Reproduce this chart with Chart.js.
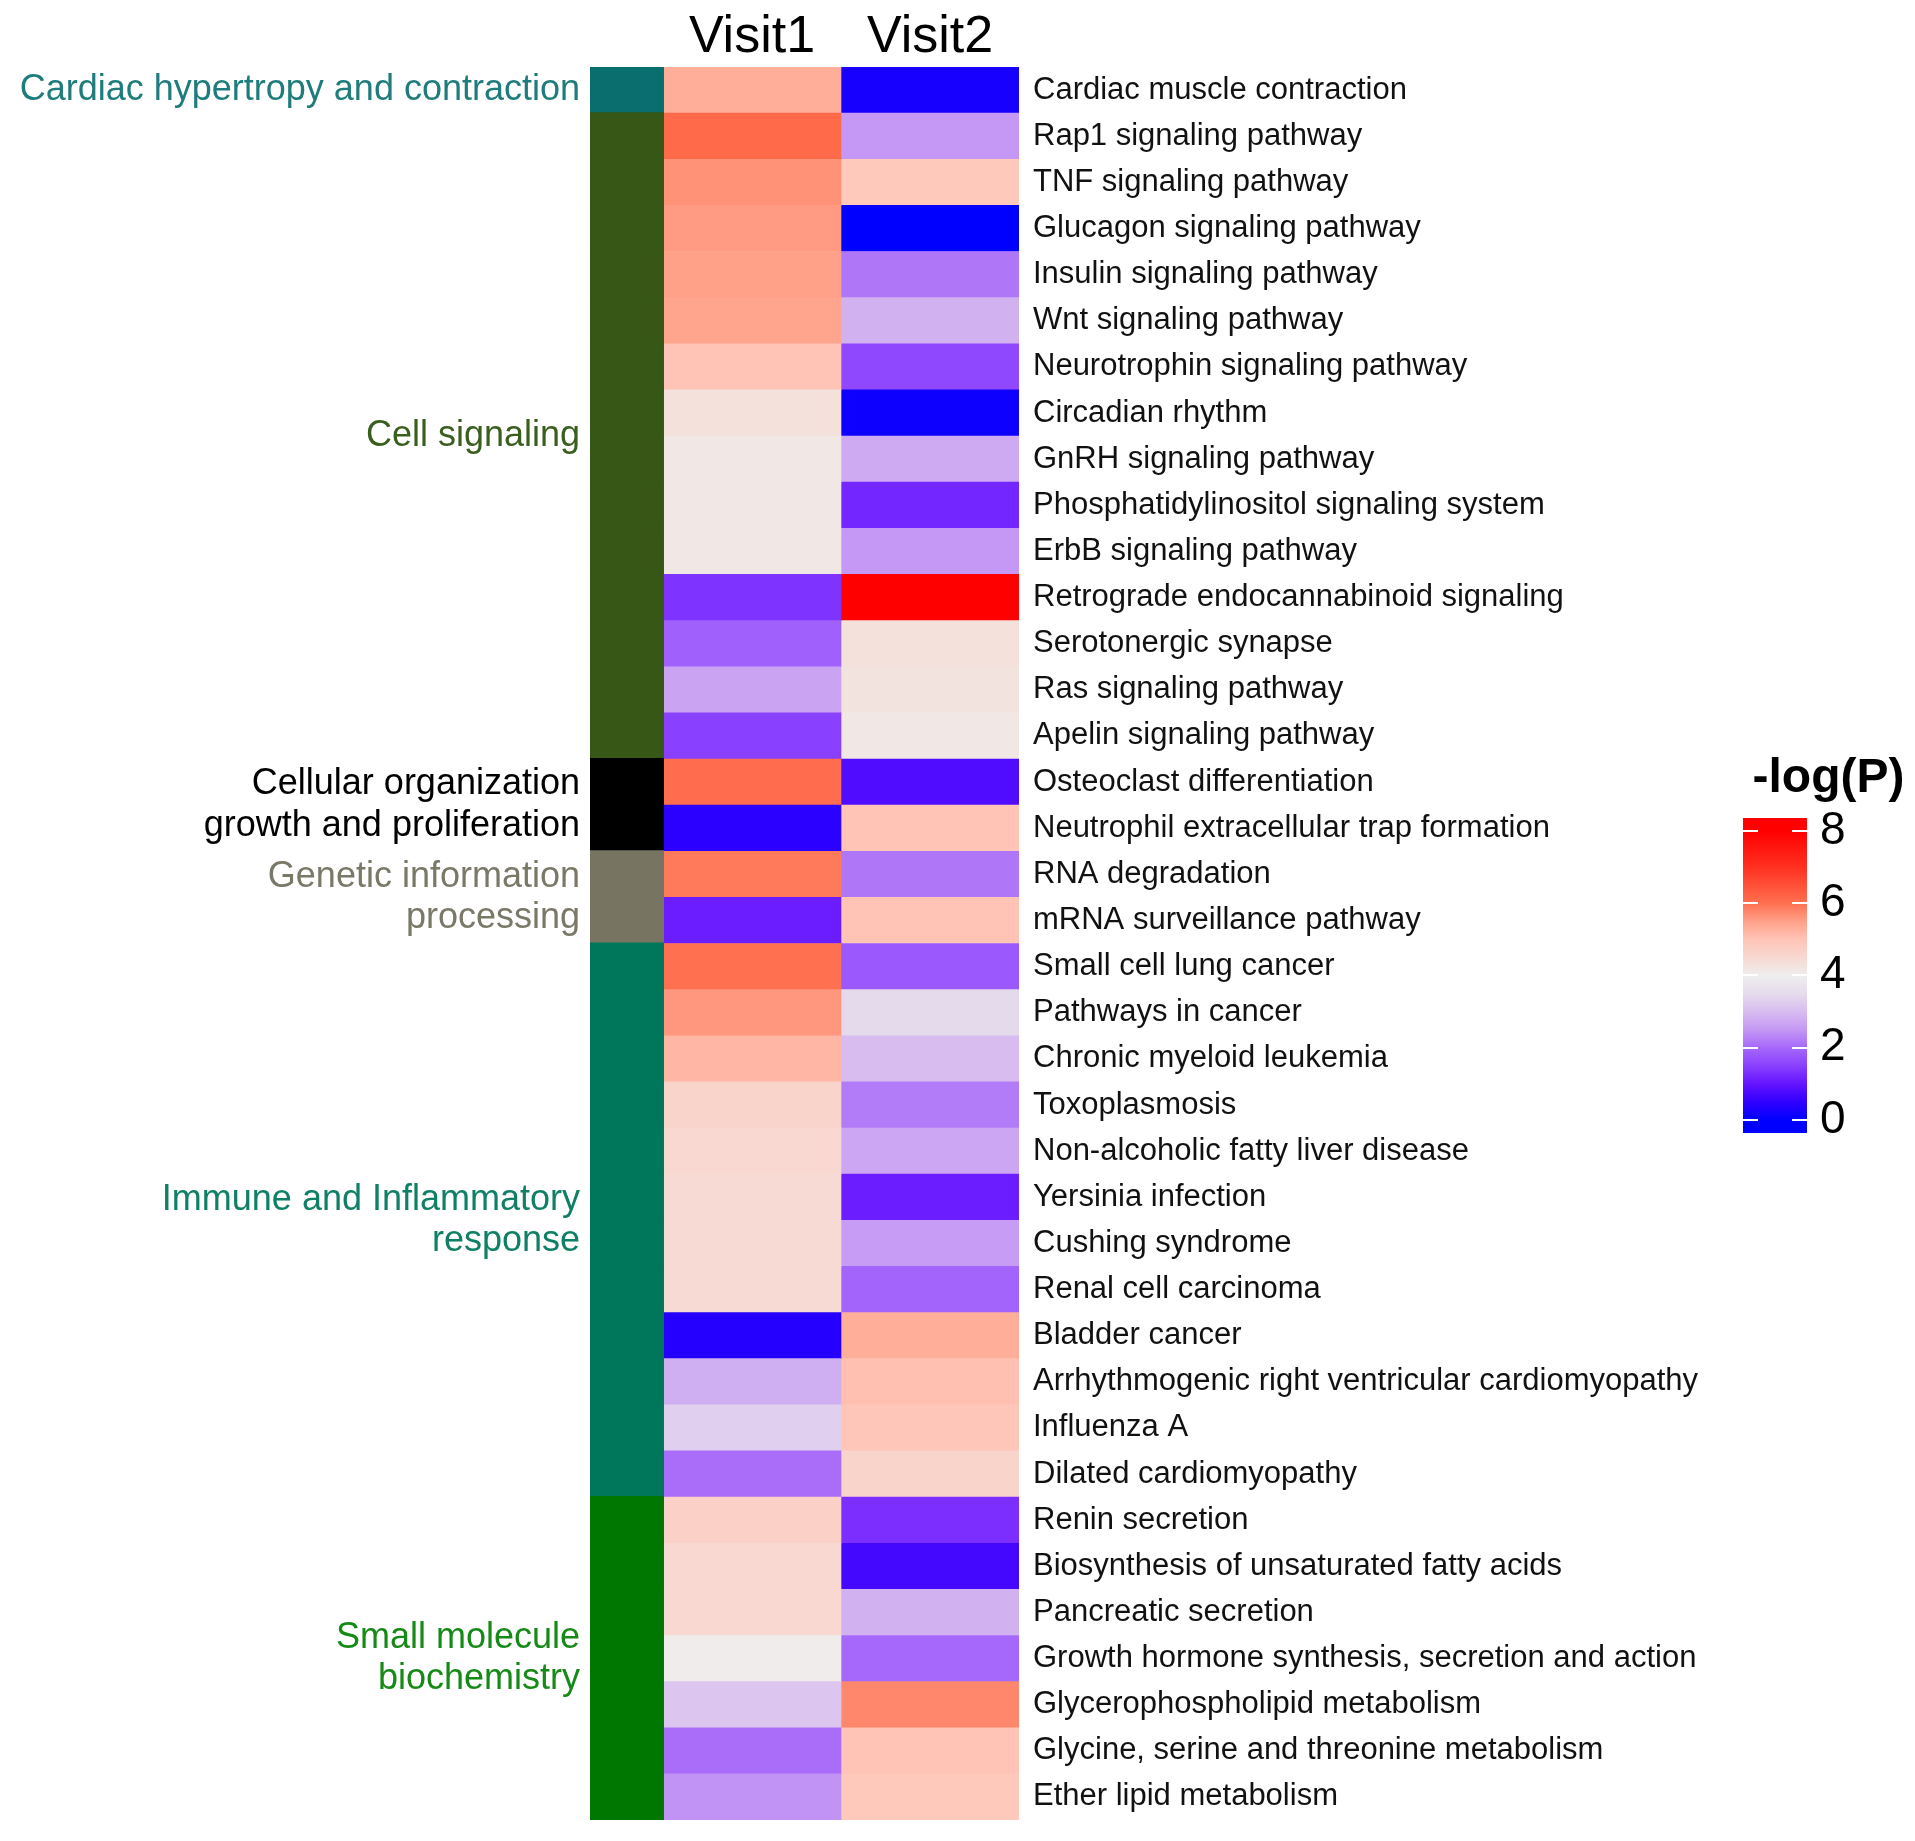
<!DOCTYPE html>
<html>
<head>
<meta charset="utf-8">
<script src="https://cdn.jsdelivr.net/npm/chart.js@4.4.1/dist/chart.umd.min.js"></script>
<style>
  html, body { margin: 0; padding: 0; background: #ffffff; overflow: hidden; }
  #wrap { position: relative; width: 1915px; height: 1841px; }
  #main { position: absolute; left: 0; top: 0; }
  #legend { position: absolute; left: 1740px; top: 740px; }
</style>
</head>
<body>
<div id="wrap">
  <canvas id="main" width="1915" height="1841"></canvas>
  <canvas id="legend" width="174" height="420"></canvas>
</div>
<script>
// ---------------- data ----------------
const pathways = [
  "Cardiac muscle contraction",
  "Rap1 signaling pathway",
  "TNF signaling pathway",
  "Glucagon signaling pathway",
  "Insulin signaling pathway",
  "Wnt signaling pathway",
  "Neurotrophin signaling pathway",
  "Circadian rhythm",
  "GnRH signaling pathway",
  "Phosphatidylinositol signaling system",
  "ErbB signaling pathway",
  "Retrograde endocannabinoid signaling",
  "Serotonergic synapse",
  "Ras signaling pathway",
  "Apelin signaling pathway",
  "Osteoclast differentiation",
  "Neutrophil extracellular trap formation",
  "RNA degradation",
  "mRNA surveillance pathway",
  "Small cell lung cancer",
  "Pathways in cancer",
  "Chronic myeloid leukemia",
  "Toxoplasmosis",
  "Non-alcoholic fatty liver disease",
  "Yersinia infection",
  "Cushing syndrome",
  "Renal cell carcinoma",
  "Bladder cancer",
  "Arrhythmogenic right ventricular cardiomyopathy",
  "Influenza A",
  "Dilated cardiomyopathy",
  "Renin secretion",
  "Biosynthesis of unsaturated fatty acids",
  "Pancreatic secretion",
  "Growth hormone synthesis, secretion and action",
  "Glycerophospholipid metabolism",
  "Glycine, serine and threonine metabolism",
  "Ether lipid metabolism"
];

const visit1 = [
  5.3, 6.1, 5.65, 5.55, 5.5, 5.45, 5.0, 4.3, 4.15, 4.15, 4.15,
  1.35, 1.9, 2.65, 1.5,
  6.05, 0.45,
  5.9, 1.1,
  6.0, 5.6, 5.2, 4.6, 4.5, 4.45, 4.45, 4.45, 0.4, 2.8, 3.3, 2.05,
  4.7, 4.5, 4.5, 4.05, 3.15, 2.05, 2.45
];

const visit2 = [
  0.25, 2.5, 4.9, 0.0, 2.15, 2.85, 1.6, 0.15, 2.75, 1.2, 2.5,
  8.0, 4.3, 4.25, 4.15,
  0.8, 5.0,
  2.15, 5.0,
  1.8, 3.45, 3.0, 2.2, 2.7, 1.1, 2.55, 1.95, 5.3, 5.05, 4.95, 4.6,
  1.3, 0.7, 2.85, 2.0, 5.75, 5.0, 4.9
];

const groupNames = [
  ["Cardiac hypertropy and contraction"],
  ["Cell signaling"],
  ["Cellular organization", "growth and proliferation"],
  ["Genetic information", "processing"],
  ["Immune and Inflammatory", "response"],
  ["Small molecule", "biochemistry"]
];

const rowGroup = [
  0,
  1, 1, 1, 1, 1, 1, 1, 1, 1, 1, 1, 1, 1, 1,
  2, 2,
  3, 3,
  4, 4, 4, 4, 4, 4, 4, 4, 4, 4, 4, 4,
  5, 5, 5, 5, 5, 5, 5
];

const visitLabels = ["Visit1", "Visit2"];
const legendTitle = "-log(P)";
const legendTicks = [0, 2, 4, 6, 8];

// ---------------- styles ----------------
const groupColors = ["#0B6E6E", "#365716", "#000000", "#777562", "#00775A", "#007700"];
const groupTextColors = ["#1E7C7C", "#3A5E1E", "#000000", "#7A7867", "#0F8066", "#168A16"];
const colorStops = [
  [0.0, [0, 0, 255]],
  [0.5, [48, 0, 255]],
  [1.0, [100, 20, 255]],
  [1.5, [138, 64, 255]],
  [2.0, [166, 104, 250]],
  [2.5, [196, 152, 244]],
  [3.0, [216, 188, 240]],
  [3.5, [230, 220, 236]],
  [4.0, [238, 238, 238]],
  [4.5, [248, 216, 208]],
  [5.0, [255, 196, 182]],
  [5.5, [255, 160, 136]],
  [6.0, [255, 112, 80]],
  [7.0, [255, 48, 32]],
  [8.0, [255, 0, 0]]
];
const FONT = "'Liberation Sans', Arial, sans-serif";

function valueColor(v) {
  if (v <= colorStops[0][0]) return rgb(colorStops[0][1]);
  for (let i = 1; i < colorStops.length; i++) {
    const [v1, c1] = colorStops[i];
    const [v0, c0] = colorStops[i - 1];
    if (v <= v1) {
      const t = (v - v0) / (v1 - v0);
      return rgb(c0.map((c, k) => c + (c1[k] - c) * t));
    }
  }
  return rgb(colorStops[colorStops.length - 1][1]);
}
function rgb(c) { return "rgb(" + c.map(x => Math.round(x)).join(",") + ")"; }

// group centres (mean row index of each group)
const groupCenters = groupNames.map((_, g) => {
  const idx = rowGroup.map((r, i) => r === g ? i : null).filter(i => i !== null);
  return idx.reduce((a, b) => a + b, 0) / idx.length;
});

const GROUP_LEFT = -0.41;
const noVPad = s => { s.paddingTop = 0; s.paddingBottom = 0; };

// ---------------- main heatmap ----------------
new Chart(document.getElementById("main"), {
  type: "bar",
  data: {
    labels: pathways,
    datasets: [
      {
        label: "Group",
        data: rowGroup.map(() => [GROUP_LEFT, 0]),
        backgroundColor: rowGroup.map(g => groupColors[g]),
        inflateAmount: 1,
        xAxisID: "x", yAxisID: "yr"
      },
      {
        label: visitLabels[0],
        data: visit1.map(() => [0, 1]),
        backgroundColor: visit1.map(valueColor),
        xAxisID: "x", yAxisID: "yr"
      },
      {
        label: visitLabels[1],
        data: visit2.map(() => [1, 2]),
        backgroundColor: visit2.map(valueColor),
        xAxisID: "x", yAxisID: "yr"
      }
    ]
  },
  options: {
    indexAxis: "y",
    responsive: false,
    animation: false,
    grouped: false,
    barPercentage: 1,
    categoryPercentage: 1,
    borderWidth: 0,
    layout: { padding: { left: 0, right: 0, top: 0, bottom: 21 } },
    plugins: { legend: { display: false }, tooltip: { enabled: false }, title: { display: false } },
    scales: {
      x: {
        type: "linear",
        position: "top",
        min: GROUP_LEFT,
        max: 2,
        offset: false,
        grid: { display: false, drawTicks: false },
        border: { display: false },
        afterBuildTicks: s => { s.ticks = visitLabels.map((_, i) => ({ value: i + 0.5 })); },
        afterFit: s => { s.height = 67; s.paddingLeft = 0; s.paddingRight = 0; },
        ticks: {
          autoSkip: false,
          maxRotation: 0,
          padding: 3,
          color: "#000000",
          font: { family: FONT, size: 52, lineHeight: 1.0 },
          callback: (v, i) => visitLabels[i]
        }
      },
      yr: {
        type: "category",
        position: "right",
        offset: true,
        grid: { display: false, drawTicks: false },
        border: { display: false },
        afterFit: s => { s.width = 896; noVPad(s); },
        ticks: {
          autoSkip: false,
          padding: 14,
          color: "#111111",
          font: { family: FONT, size: 31 }
        }
      },
      yl: {
        type: "linear",
        position: "left",
        reverse: true,
        offset: false,
        min: -0.5,
        max: pathways.length - 0.5,
        grid: { display: false, drawTicks: false },
        border: { display: false },
        afterBuildTicks: s => { s.ticks = groupCenters.map(v => ({ value: v })); },
        afterFit: s => { s.width = 590; noVPad(s); },
        ticks: {
          autoSkip: false,
          padding: 10,
          font: { family: FONT, size: 36, lineHeight: 1.15 },
          color: ctx => groupTextColors[ctx.index] || "#000",
          callback: (v, i) => groupNames[i]
        }
      }
    }
  }
});

// ---------------- colour bar legend ----------------
const LMIN = -0.36, LMAX = 8.36;
new Chart(document.getElementById("legend"), {
  type: "bar",
  data: {
    labels: [""],
    datasets: [{
      data: [[LMIN, LMAX]],
      backgroundColor: ctx => {
        const chart = ctx.chart;
        const ys = chart.scales.y;
        if (!chart.chartArea || !ys) return "#eeeeee";
        const p0 = ys.getPixelForValue(LMIN), p1 = ys.getPixelForValue(LMAX);
        const g = chart.ctx.createLinearGradient(0, p0, 0, p1);
        const span = LMAX - LMIN;
        g.addColorStop(0, valueColor(LMIN));
        colorStops.forEach(([v]) => g.addColorStop((v - LMIN) / span, valueColor(v)));
        g.addColorStop(1, valueColor(LMAX));
        return g;
      },
      borderWidth: 0
    }]
  },
  options: {
    responsive: false,
    animation: false,
    barPercentage: 1,
    categoryPercentage: 1,
    layout: { padding: { left: 3, right: 0, top: 0, bottom: 27 } },
    plugins: {
      legend: { display: false },
      tooltip: { enabled: false },
      title: {
        display: true,
        text: legendTitle,
        color: "#000000",
        font: { family: FONT, size: 48, weight: "bold", lineHeight: 1.2 },
        padding: { top: 10, bottom: 10.4 }
      }
    },
    scales: {
      x: { display: false },
      y: {
        position: "right",
        min: LMIN,
        max: LMAX,
        grid: { display: true, drawTicks: false, color: "#ffffff", lineWidth: 2, z: 1 },
        border: { display: false, dash: [15, 34] },
        afterBuildTicks: s => { s.ticks = legendTicks.map(v => ({ value: v })); },
        afterFit: s => { s.width = 107; noVPad(s); },
        ticks: {
          padding: 13,
          color: "#000000",
          font: { family: FONT, size: 46 },
          callback: v => String(v)
        }
      }
    }
  }
});
</script>
</body>
</html>
